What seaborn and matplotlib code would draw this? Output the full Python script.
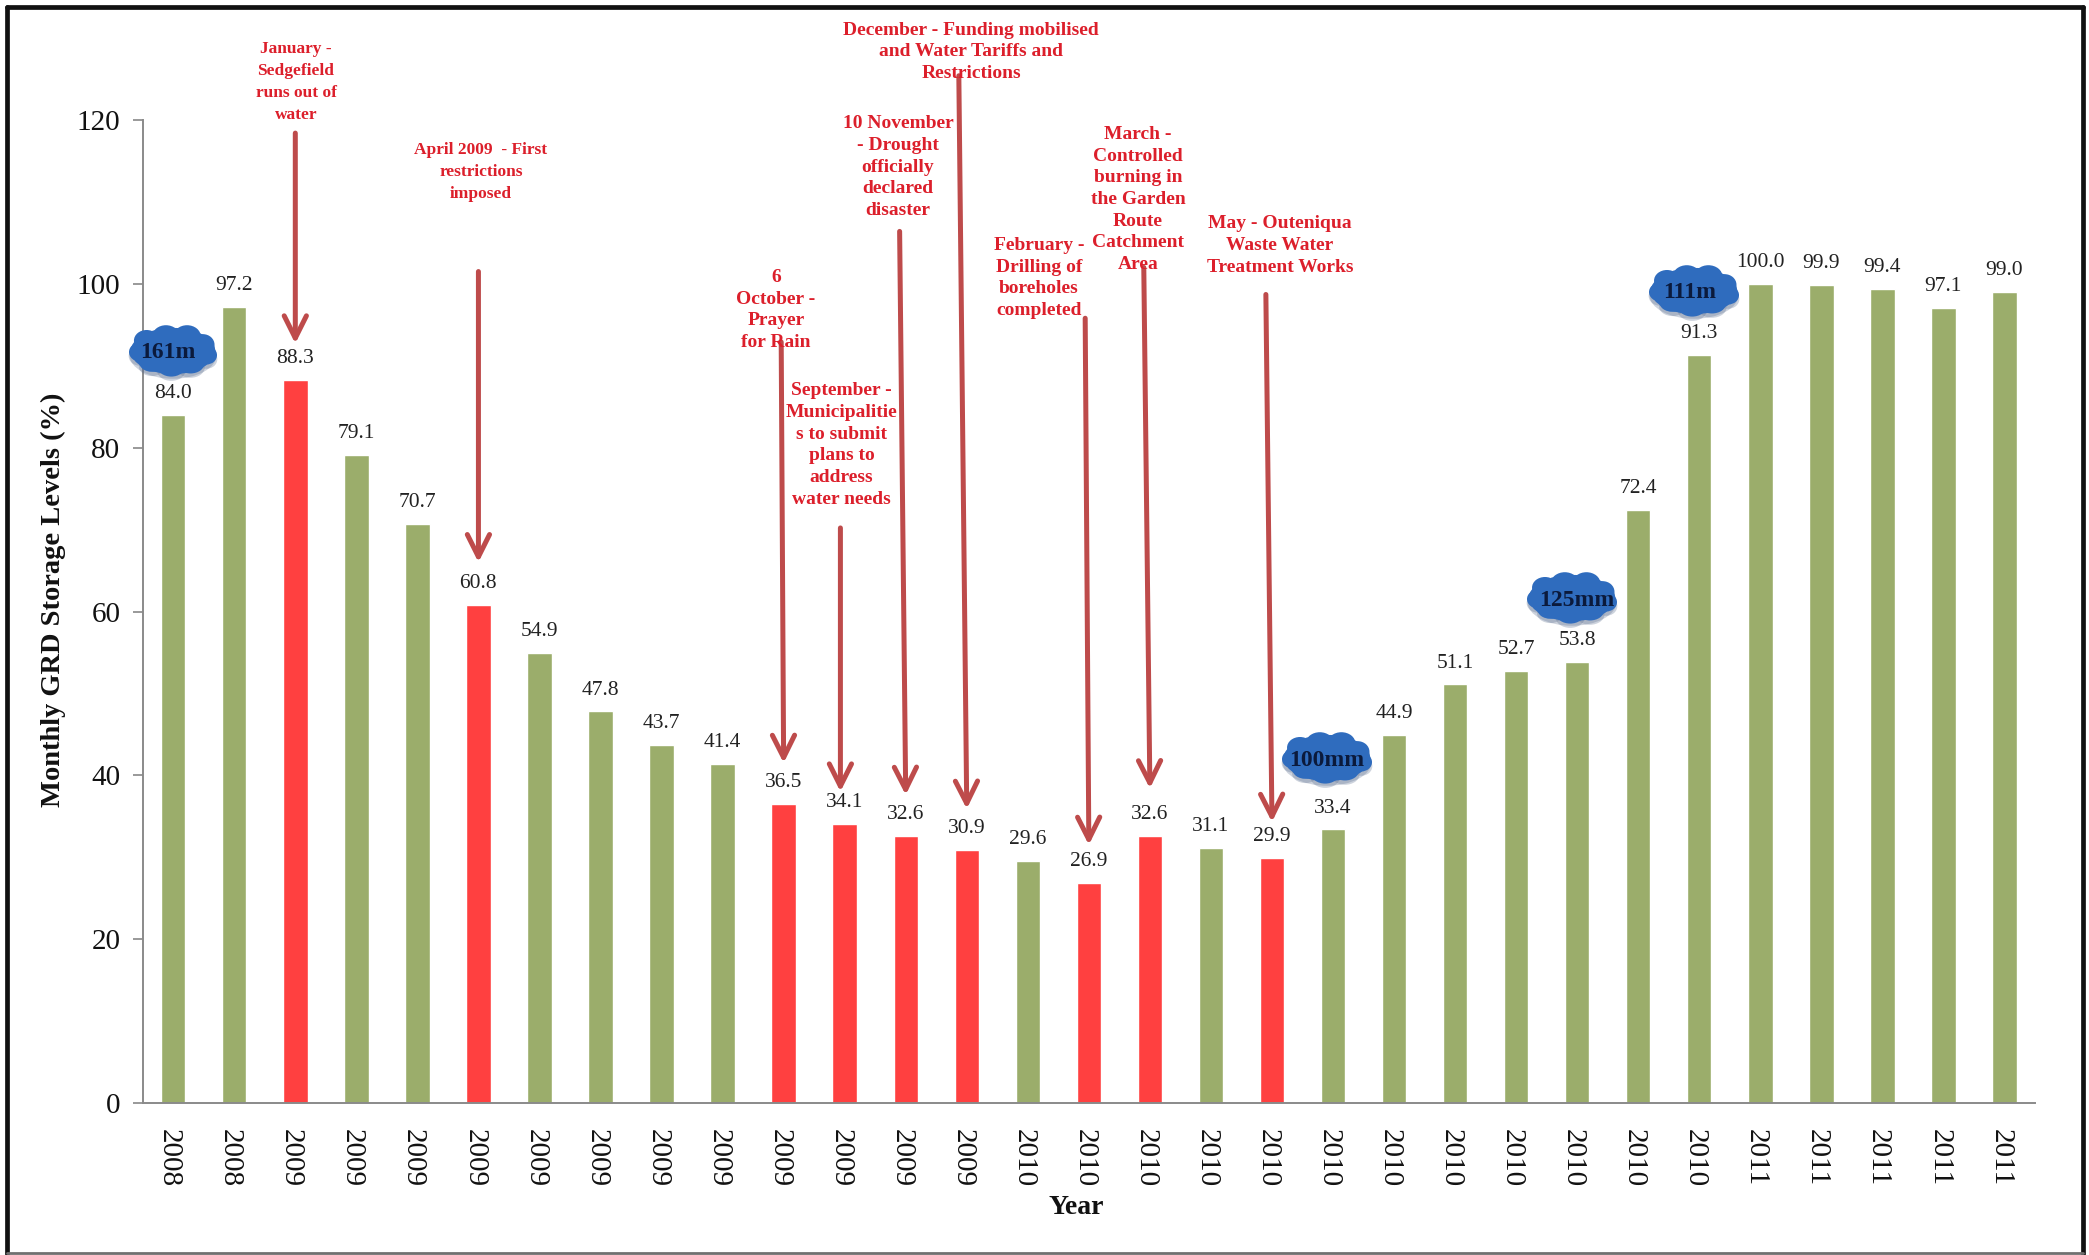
import matplotlib
matplotlib.use("Agg")
import matplotlib.pyplot as plt
import seaborn as sns
import pandas as pd
from matplotlib.lines import Line2D
from matplotlib.patches import Ellipse
from matplotlib.transforms import IdentityTransform, ScaledTranslation

years = ["2008"] * 2 + ["2009"] * 12 + ["2010"] * 12 + ["2011"] * 5
levels = [84.0, 97.2, 88.3, 79.1, 70.7, 60.8, 54.9, 47.8, 43.7, 41.4, 36.5,
          34.1, 32.6, 30.9, 29.6, 26.9, 32.6, 31.1, 29.9, 33.4, 44.9, 51.1,
          52.7, 53.8, 72.4, 91.3, 100.0, 99.9, 99.4, 97.1, 99.0]
event_bars = [2, 5, 10, 11, 12, 13, 15, 16, 18]

W, H = 2089, 1255
sns.set_theme(style="white")
plt.rcParams["font.family"] = ["Liberation Serif", "DejaVu Serif"]
fig = plt.figure(figsize=(W / 100, H / 100), dpi=100, facecolor="white")
ax = fig.add_axes([142.7 / W, 1 - 1103 / H, (2035 - 142.7) / W, (1103 - 120) / H])

df = pd.DataFrame({"pos": range(len(levels)), "level": levels,
                   "kind": ["event" if i in event_bars else "normal" for i in range(len(levels))]})
sns.barplot(data=df, x="pos", y="level", hue="kind", dodge=False, width=0.40, ax=ax,
            palette={"normal": "#9BAD6B", "event": "#FF4040"}, saturation=1, legend=False)
ax.set_xlim(-0.5, len(levels) - 0.5)
ax.set_ylim(0, 120)
ax.set_yticks(range(0, 121, 20))
ax.set_xticks(range(len(levels)))
ax.set_xticklabels(years, rotation=270, fontsize=21, color="#111111")
ax.tick_params(axis="y", left=True, length=7, width=1.2, color="#888888", labelsize=21,
               labelcolor="#111111", pad=9)
ax.tick_params(axis="x", bottom=False, pad=13)
shift = ScaledTranslation(-3 / 72, 0, fig.dpi_scale_trans)
for lab in ax.get_xticklabels():
    lab.set_transform(lab.get_transform() + shift)
for s in ["top", "right"]:
    ax.spines[s].set_visible(False)
for s in ["left", "bottom"]:
    ax.spines[s].set_color("#8A8A8A")
    ax.spines[s].set_linewidth(1.4)
ax.set_xlabel("")
ax.set_ylabel("")

for i, v in enumerate(levels):
    ax.annotate(f"{v:.1f}", (i, v), xytext=(0, 8.5), textcoords="offset points", ha="center",
                va="bottom", fontsize=15.5, color="#222222")

def px_text(x, y, s, **kw):
    fig.text(x / W, 1 - y / H, s, ha="center", va="center", **kw)

px_text(53, 600, "Monthly GRD Storage Levels (%)", rotation=90, fontsize=20.5, fontweight="bold", color="#111111")
px_text(1076, 1207, "Year", fontsize=20, fontweight="bold", color="#111111")

arrow = dict(arrowstyle="->,head_length=1.0,head_width=0.5", color="#BE4B4B", lw=3.6,
             shrinkA=0, shrinkB=0, mutation_scale=16)
for tip, tail in [((2, 92.7), (2, 118.4)), ((5, 66), (5, 101.5)), ((10, 41.5), (9.96, 92.9)),
                  ((10.93, 38), (10.93, 70.2)), ((12, 37.6), (11.9, 106.4)), ((13, 35.9), (12.87, 125.4)),
                  ((15, 31.5), (14.94, 95.8)), ((16, 38.4), (15.9, 102)), ((18, 34.3), (17.9, 98.7))]:
    ax.annotate("", xy=tip, xytext=tail, arrowprops=arrow, annotation_clip=False)

note = dict(fontsize=14, fontweight="bold", color="#DC1F2B", linespacing=1.36, zorder=6)
small = dict(note, fontsize=12.5, linespacing=1.5)
px_text(296, 82, "January -\nSedgefield\nruns out of\nwater", **small)
px_text(481, 172, "April 2009  - First\nrestrictions\nimposed", **small)
px_text(971, 52, "December - Funding mobilised\nand Water Tariffs and\nRestrictions", **note)
px_text(898, 167, "10 November\n- Drought\nofficially\ndeclared\ndisaster", **note)
px_text(1138, 199.5, "March -\nControlled\nburning in\nthe Garden\nRoute\nCatchment\nArea", **note)
px_text(1039, 278, "February -\nDrilling of\nboreholes\ncompleted", **note)
px_text(1280, 245.5, "May - Outeniqua\nWaste Water\nTreatment Works", **note)
px_text(776, 310, "6\nOctober -\nPrayer\nfor Rain", **note)
px_text(841.5, 445, "September -\nMunicipalitie\ns to submit\nplans to\naddress\nwater needs", **note)

lobes = [(-0.30, -0.20, .24, .34), (-0.08, -0.28, .26, .36), (0.16, -0.28, .26, .36), (0.34, -0.12, .22, .34),
         (0.38, 0.08, .20, .30), (0.20, 0.24, .26, .32), (-0.02, 0.30, .26, .32), (-0.24, 0.22, .24, .30),
         (-0.38, 0.02, .20, .30), (0, 0, .80, .74)]

def cloud(cx, cy, w, h, label, tx):
    for col, dy, a, scale, z in [("#5C6F90", 4, 0.30, 1.03, 4), ("#2F6CBE", 0, 1, 1.0, 5)]:
        for ox, oy, rx, ry in lobes:
            fig.add_artist(Ellipse((cx + ox * w, H - (cy + dy + oy * h)), rx * w * scale * 1.2, ry * h * scale * 1.2,
                                   transform=IdentityTransform(), fc=col, ec="none", alpha=a, zorder=z))
    px_text(tx, cy + 2, label, fontsize=17, fontweight="bold", color="#0B1A3C", zorder=7)

cloud(173, 351, 88, 52, "161m", 168)
cloud(1694, 291, 90, 52, "111m", 1690)
cloud(1572, 598, 90, 52, "125mm", 1577)
cloud(1327, 758, 90, 52, "100mm", 1327)

for xs, ys, c, lw in [((7, 7), (1254, 7), "#111111", 3.4), ((7, 2083), (7, 7), "#111111", 3.4),
                      ((2083, 2083), (7, 1254), "#111111", 3.4), ((7, 2083), (1253, 1253), "#707070", 2)]:
    fig.add_artist(Line2D([x / W for x in xs], [1 - y / H for y in ys], color=c, lw=lw,
                          transform=fig.transFigure, zorder=10))
fig.savefig("out.png", dpi=100)
